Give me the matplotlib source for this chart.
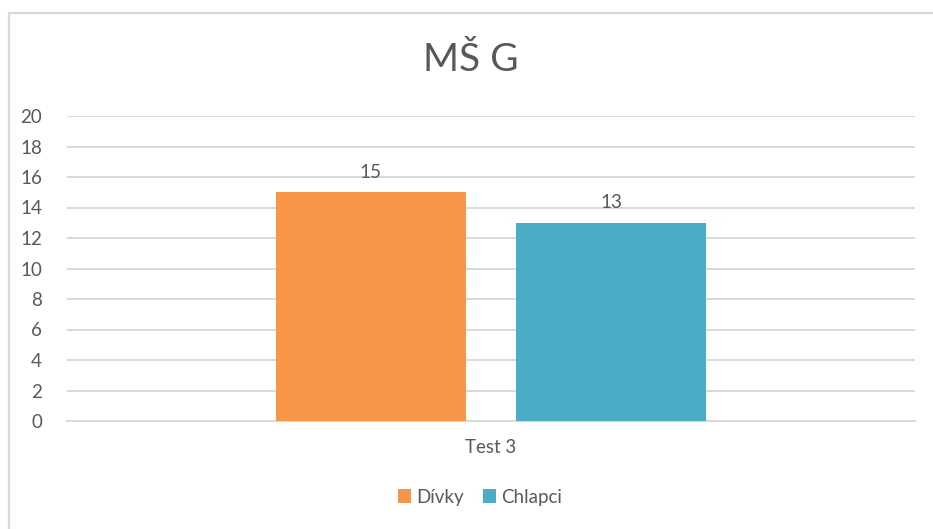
import matplotlib.pyplot as plt
from matplotlib.patches import Rectangle

# Data
category = 'Test 3'
series = ['Dívky', 'Chlapci']
values = [15, 13]
colors = ['#F79646', '#4BACC6']
yticks = [0, 2, 4, 6, 8, 10, 12, 14, 16, 18, 20]

plt.rcParams['font.family'] = ['Lato', 'DejaVu Sans']
txt = '#595959'
fs = 13.5

fig = plt.figure(figsize=(9.33, 5.29), dpi=100)

# Chart-area border (runs past the right and bottom edge of the image)
fig.patches.append(Rectangle((9 / 933, -0.05), 1.0, 1 - 13 / 529 + 0.05,
                             transform=fig.transFigure, fill=False,
                             edgecolor='#D9D9D9', linewidth=1.6))

ax = fig.add_axes([67 / 933, 1 - 421 / 529, 848 / 933, 305 / 529])

width = 0.2235
offsets = [-0.1418, 0.1418]
for off, v, c, name in zip(offsets, values, colors, series):
    ax.bar(off, v, width=width, color=c, label=name, zorder=3)
    ax.text(off, v + 1.3, str(v), ha='center', va='center',
            fontsize=fs, color=txt)

ax.set_xlim(-0.5, 0.5)
ax.set_ylim(0, 20)
ax.set_yticks(yticks)
ax.set_yticklabels([str(t) for t in yticks], fontsize=fs, color=txt)
ax.set_xticks([0])
ax.set_xticklabels([category], fontsize=fs, color=txt)
ax.tick_params(axis='both', length=0)
ax.tick_params(axis='y', pad=18)
ax.tick_params(axis='x', pad=13)
ax.grid(axis='y', color='#D9D9D9', linewidth=1.4, zorder=0)
for s in ['top', 'right', 'left']:
    ax.spines[s].set_visible(False)
ax.spines['bottom'].set_color('#D9D9D9')
ax.spines['bottom'].set_linewidth(1.4)

fig.text(471 / 933, 1 - 60 / 529, 'MŠ G', ha='center', va='center',
         fontsize=28, color=txt)

leg = fig.legend(loc='center', bbox_to_anchor=(480 / 933, 1 - 497 / 529),
                 ncol=2, frameon=False, fontsize=fs, handlelength=0.7,
                 handleheight=0.7, handletextpad=0.3, columnspacing=1.0)
for t in leg.get_texts():
    t.set_color(txt)

fig.savefig('out.png', dpi=100)
